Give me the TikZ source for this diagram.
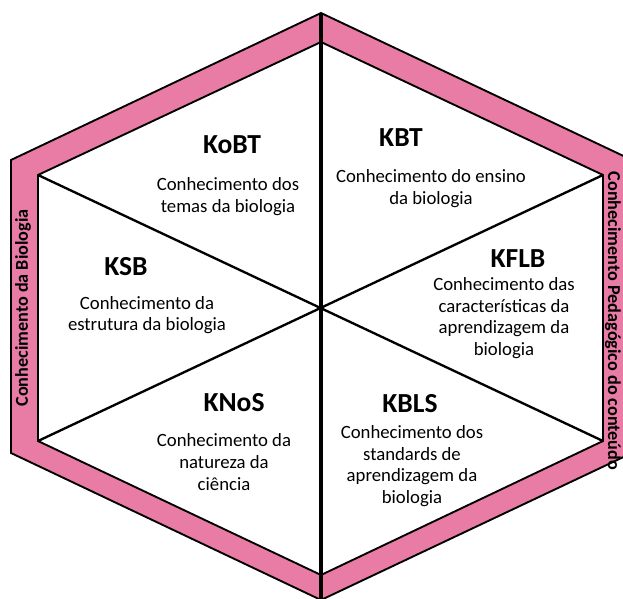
\documentclass[tikz,border=0pt]{standalone}
\usepackage{fontspec}
\setmainfont{Carlito}
\usepackage{tikz}
\definecolor{bandpink}{RGB}{232,124,164}

\begin{document}
\begin{tikzpicture}[x=0.03cm, y=-0.03cm,
		title/.style={font=\bfseries\fontsize{23.5}{27}\selectfont},
		desc/.style={align=center, font=\fontsize{16}{18.6}\selectfont},
		side/.style={font=\bfseries\fontsize{15.5}{18}\selectfont},
		band/.style={fill=bandpink, draw=black, line width=1.6pt, line join=miter},
		inner/.style={fill=white, draw=black, line width=1.6pt},
		divider/.style={draw=black, line width=2pt}]
		\useasboundingbox (0,0) rectangle (623,599);
		\clip (0,0) rectangle (623,599);
		\coordinate (c) at (321,308);
		\coordinate (ot) at (321,13);
		\coordinate (ob) at (321,600);
		\coordinate (it) at (321,42);
		\coordinate (itl) at (38,175);
		\coordinate (ibl) at (38,441);
		\coordinate (ib) at (321,575);
		\coordinate (ibr) at (603,441);
		\coordinate (itr) at (603,175);
		\draw[band] (ot) -- (11,160) -- (11,453) -- (ob) -- (632,453) -- (632,160) -- cycle;
		\draw[inner] (it) -- (itl) -- (ibl) -- (ib) -- (ibr) -- (itr) -- cycle;
		\draw[divider] (itl) -- (ibr);
		\draw[divider] (ibl) -- (itr);
		\draw[divider, line width=3pt] (ot) -- (ob);
		
		\node[title] (1) at (232,145) {KoBT};
		\node[desc] (2) at (228,197) {Conhecimento dos\\temas da biologia};
		\node[title] (3) at (401,138) {KBT};
		\node[desc] (4) at (431,189) {Conhecimento do ensino\\da biologia};
		\node[title] (5) at (518,259) {KFLB};
		\node[desc] (6) at (504,318) {Conhecimento das\\características da\\aprendizagem da\\biologia};
		\node[title] (7) at (126,267) {KSB};
		\node[desc] (8) at (147,315) {Conhecimento da\\estrutura da biologia};
		\node[title] (9) at (234,403) {KNoS};
		\node[desc] (10) at (224,462) {Conhecimento da\\natureza da\\ciência};
		\node[title] (11) at (410,404) {KBLS};
		\node[desc] (12) at (412,466) {Conhecimento dos\\standards de\\aprendizagem da\\biologia};
		\node[side, rotate=90] (13) at (23,308) {Conhecimento da Biologia};
		\node[side, rotate=-90] (14) at (613,321) {Conhecimento Pedagógico do conteúdo};
		
	\end{tikzpicture}
\end{document}
